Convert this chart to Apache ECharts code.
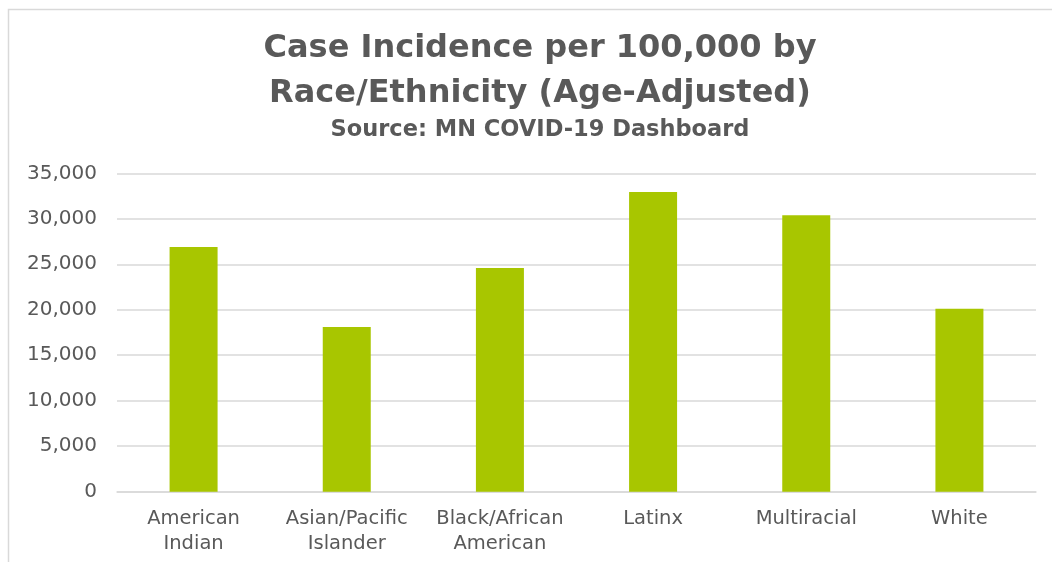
<!DOCTYPE html>
<html>
<head>
<meta charset="utf-8">
<script src="https://cdn.jsdelivr.net/npm/echarts@6/dist/echarts.min.js"></script>
<style>
html,body{margin:0;padding:0;background:#fff;}
#chart{width:1052px;height:562px;}
</style>
</head>
<body>
<div id="chart"></div>
<script>
const categories = ['American\nIndian', 'Asian/Pacific\nIslander', 'Black/African\nAmerican', 'Latinx', 'Multiracial', 'White'];
const values = [26900, 18100, 24600, 32950, 30400, 20100];
const titleLines = 'Case Incidence per 100,000 by\nRace/Ethnicity (Age-Adjusted)';
const subtitle = 'Source: MN COVID-19 Dashboard';

const chart = echarts.init(document.getElementById('chart'), null, {renderer: 'canvas'});
chart.setOption({
  animation: false,
  backgroundColor: '#ffffff',
  graphic: [{
    type: 'rect', left: 6, top: 7, silent: true,
    shape: {x: 0, y: 0, width: 1100, height: 600},
    style: {fill: 'none', stroke: '#d9d9d9', lineWidth: 1.5}
  }],
  title: {
    text: titleLines,
    subtext: subtitle,
    left: 535,
    textAlign: 'center',
    top: 21,
    itemGap: 0,
    textStyle: {fontFamily: 'DejaVu Sans', fontWeight: 'bold', fontSize: 32, lineHeight: 45, color: '#595959'},
    subtextStyle: {fontFamily: 'DejaVu Sans', fontWeight: 'bold', fontSize: 22.5, lineHeight: 28, color: '#595959'}
  },
  grid: {left: 117, right: 16, top: 173.3, bottom: 70.3, containLabel: false},
  xAxis: {
    type: 'category',
    data: categories,
    axisLine: {lineStyle: {color: '#d9d9d9', width: 1.5}},
    axisTick: {show: false},
    axisLabel: {fontFamily: 'DejaVu Sans', fontSize: 19.5, color: '#595959', lineHeight: 25, margin: 15, interval: 0}
  },
  yAxis: {
    type: 'value',
    min: 0, max: 35000, interval: 5000,
    axisLine: {show: false},
    axisTick: {show: false},
    splitLine: {lineStyle: {color: '#d9d9d9', width: 1.5}},
    axisLabel: {
      fontFamily: 'DejaVu Sans', fontSize: 20, color: '#595959', margin: 20,
      formatter: v => v.toLocaleString('en-US')
    }
  },
  series: [{
    type: 'bar',
    data: values,
    barWidth: 48,
    itemStyle: {color: '#a8c600'}
  }]
});
</script>
</body>
</html>
